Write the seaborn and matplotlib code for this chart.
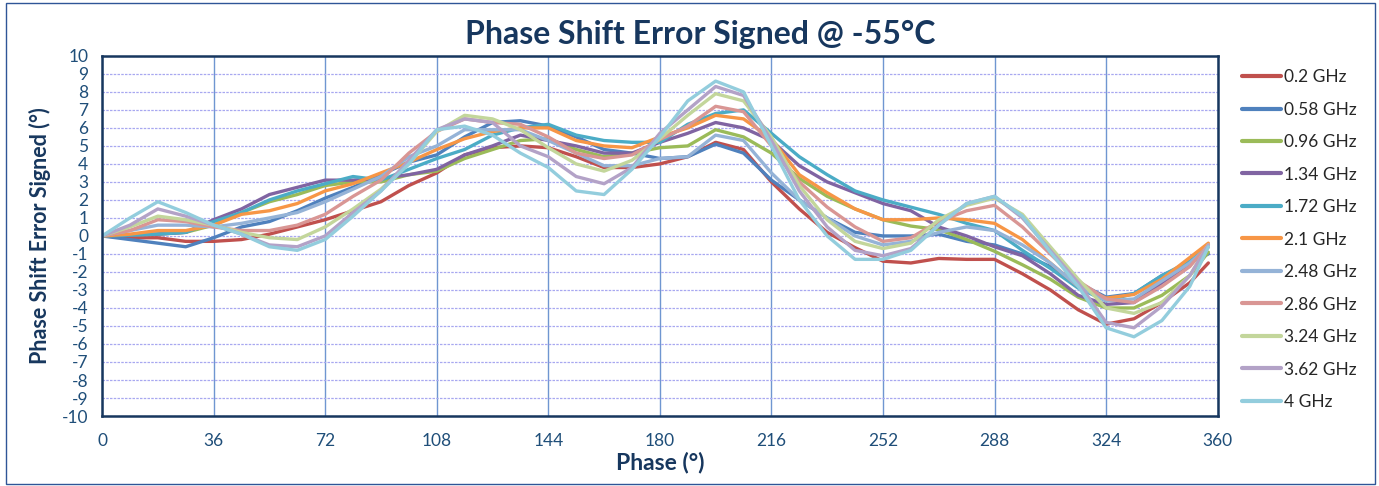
import matplotlib
matplotlib.use('Agg')
import matplotlib.pyplot as plt
import numpy as np
import pandas as pd
import seaborn as sns

# phase points (deg)
phase = [0, 9, 18, 27, 36, 45, 54, 63, 72, 81, 90, 99, 108, 117, 126, 135, 144, 153, 162, 171,
         180, 189, 198, 207, 216, 225, 234, 243, 252, 261, 270, 279, 288, 297, 306, 315, 324, 333,
         342, 351, 357]

err_0_2 = [0, -0.1, -0.1, -0.3, -0.3, -0.2, 0.1, 0.5, 0.9, 1.4, 1.9, 2.8, 3.5, 4.5, 4.9, 5.0, 4.9,
           4.4, 3.8, 3.8, 4.0, 4.4, 5.2, 4.8, 3.0, 1.5, 0.2, -0.65, -1.4, -1.5, -1.25, -1.3, -1.3,
           -2.1, -3.0, -4.1, -4.9, -4.6, -3.7, -2.6, -1.5]
err_0_58 = [0, -0.2, -0.4, -0.6, -0.1, 0.5, 0.8, 1.4, 2.1, 2.7, 3.4, 4.1, 4.5, 5.5, 6.3, 6.4, 6.1,
            5.5, 4.8, 4.6, 4.3, 4.4, 5.1, 4.6, 3.1, 2.0, 1.0, 0.2, 0.0, 0.0, 0.1, -0.3, -0.5,
            -1.0, -1.7, -2.6, -3.4, -3.2, -2.2, -1.5, -1.0]
err_0_96 = [0, 0.05, 0.1, 0.2, 0.6, 1.3, 1.9, 2.3, 2.8, 3.0, 3.0, 3.4, 3.6, 4.3, 4.8, 5.3, 5.4,
            4.8, 4.4, 4.6, 4.9, 5.0, 5.9, 5.5, 4.6, 3.2, 2.2, 1.5, 0.9, 0.55, 0.35, -0.2, -0.85,
            -1.6, -2.4, -3.4, -4.0, -4.0, -3.3, -2.2, -0.9]
err_1_34 = [0, 0.05, 0.1, 0.2, 0.9, 1.5, 2.3, 2.7, 3.1, 3.1, 3.2, 3.4, 3.7, 4.5, 5.0, 5.6, 5.3,
            5.0, 4.6, 4.6, 5.2, 5.7, 6.3, 6.0, 5.3, 3.9, 3.0, 2.4, 1.8, 1.4, 0.5, 0.0, -0.6,
            -1.1, -2.1, -3.3, -3.8, -3.7, -2.6, -1.6, -0.6]
err_1_72 = [0, 0.05, 0.1, 0.2, 0.8, 1.3, 2.0, 2.5, 2.9, 3.3, 3.1, 3.7, 4.3, 4.8, 5.6, 6.0, 6.2,
            5.6, 5.3, 5.2, 5.2, 6.2, 6.8, 7.0, 5.7, 4.4, 3.4, 2.5, 2.0, 1.6, 1.2, 0.7, 0.3,
            -0.8, -1.8, -2.9, -3.6, -3.2, -2.2, -1.4, -0.6]
err_2_1 = [0, 0.1, 0.3, 0.3, 0.6, 1.2, 1.4, 1.8, 2.5, 2.9, 3.5, 4.1, 4.8, 5.4, 5.8, 6.0, 6.0,
           5.3, 5.0, 4.9, 5.5, 6.0, 6.7, 6.5, 5.4, 3.4, 2.4, 1.5, 0.9, 0.9, 1.0, 0.9, 0.7,
           -0.2, -1.5, -2.8, -3.45, -3.25, -2.4, -1.2, -0.4]
err_2_48 = [0, 0.3, 0.6, 0.6, 0.5, 0.7, 1.0, 1.3, 1.9, 2.6, 3.3, 4.4, 5.0, 5.9, 5.9, 5.9, 5.3,
            4.6, 3.9, 3.9, 4.3, 4.4, 5.6, 5.3, 3.5, 2.0, 1.0, 0.0, -0.5, -0.3, 0.2, 0.5, 0.3,
            -0.5, -1.5, -2.8, -3.6, -3.5, -2.5, -1.5, -0.6]
err_2_86 = [0, 0.3, 0.9, 0.8, 0.5, 0.3, 0.3, 0.6, 1.2, 2.2, 3.1, 4.6, 5.8, 6.5, 6.3, 6.2, 5.5,
            4.6, 4.3, 4.5, 5.35, 6.1, 7.2, 6.9, 5.0, 3.0, 1.6, 0.5, -0.3, -0.1, 0.8, 1.4, 1.7,
            0.5, -1.0, -2.5, -3.5, -3.7, -2.8, -1.7, -0.5]
err_3_24 = [0, 0.5, 1.1, 0.9, 0.6, 0.2, -0.1, -0.2, 0.5, 1.5, 2.6, 4.0, 5.8, 6.7, 6.5, 5.9, 4.9,
            4.0, 3.6, 4.2, 5.4, 6.7, 7.9, 7.5, 5.5, 2.8, 0.9, -0.3, -0.7, -0.4, 0.9, 1.7, 2.1,
            1.2, -0.6, -2.4, -4.0, -4.3, -3.7, -2.2, -0.5]
err_3_62 = [0, 0.6, 1.5, 1.1, 0.6, 0.1, -0.5, -0.6, 0.0, 1.3, 2.5, 4.2, 5.9, 6.5, 6.3, 5.0, 4.4,
            3.3, 2.9, 3.8, 5.7, 7.0, 8.3, 7.8, 5.3, 2.5, 0.5, -0.8, -1.1, -0.7, 0.6, 1.8, 2.2,
            1.0, -0.8, -2.6, -4.8, -5.1, -3.9, -2.2, -0.5]
err_4 = [0, 1.0, 1.9, 1.3, 0.6, 0.1, -0.6, -0.8, -0.2, 1.1, 2.5, 4.0, 5.9, 6.1, 5.6, 4.6, 3.8,
         2.5, 2.3, 3.7, 5.5, 7.5, 8.6, 8.0, 5.0, 2.0, 0.0, -1.3, -1.3, -0.8, 0.6, 1.8, 2.2,
         1.1, -0.9, -2.8, -5.1, -5.6, -4.7, -2.8, -0.6]

labels = ['0.2 GHz', '0.58 GHz', '0.96 GHz', '1.34 GHz', '1.72 GHz', '2.1 GHz',
          '2.48 GHz', '2.86 GHz', '3.24 GHz', '3.62 GHz', '4 GHz']
series = [err_0_2, err_0_58, err_0_96, err_1_34, err_1_72, err_2_1,
          err_2_48, err_2_86, err_3_24, err_3_62, err_4]
colors = ['#C0504D', '#4F81BD', '#9BBB59', '#8064A2', '#4BACC6', '#F79646',
          '#95B3D7', '#D99694', '#C3D69B', '#B3A2C7', '#93CDDD']

df = pd.concat([pd.DataFrame({'Phase': phase, 'Error': s, 'Freq': lab})
                for s, lab in zip(series, labels)], ignore_index=True)

sns.set_style('white')
plt.rcParams['font.family'] = ['Lato', 'DejaVu Sans']
plt.rcParams['axes.unicode_minus'] = False

navy = '#17375E'
tick_col = '#1F4E79'

fig = plt.figure(figsize=(13.79, 4.86), dpi=100)
ax = fig.add_axes([0.074, 0.144, 0.809, 0.741])

sns.lineplot(data=df, x='Phase', y='Error', hue='Freq', palette=colors,
             hue_order=labels, linewidth=2.4, sort=False, ax=ax, legend=False)

ax.set_xlim(0, 360)
ax.set_ylim(-10, 10)
ax.set_xticks(np.arange(0, 361, 36))
ax.set_yticks(np.arange(-10, 11, 1))
ax.tick_params(axis='both', length=0, labelsize=12.5, colors=tick_col)
ax.tick_params(axis='x', pad=12)
ax.tick_params(axis='y', pad=10)

ax.xaxis.grid(True, color='#6F96D1', linewidth=1.0, linestyle='-')
ax.yaxis.grid(True, color='#A8A8F0', linewidth=0.9, linestyle=(0, (2, 1)))
ax.set_axisbelow(True)
for sp in ax.spines.values():
    sp.set_color(navy)
    sp.set_linewidth(1.8)

ax.set_xlabel('Phase (°)', fontsize=16.5, fontweight='bold', color=navy, labelpad=2)
ax.set_ylabel('Phase Shift Error Signed (°)', fontsize=15.5, fontweight='bold', color=navy,
              labelpad=8)
fig.text(0.508, 0.93, 'Phase Shift Error Signed @ -55°C', ha='center', va='center',
         fontsize=23, fontweight='bold', color=navy)

handles = [plt.Line2D([], [], color=c, linewidth=3) for c in colors]
fig.legend(handles, labels, loc='upper left', bbox_to_anchor=(0.889, 0.89), frameon=False,
           fontsize=12.5, handlelength=2.3, handletextpad=0.15, labelspacing=0.95,
           labelcolor='#262626', borderpad=0.4)

# outer chart border
fig.patches.append(plt.Rectangle((0.004, 0.004), 0.993, 0.99, transform=fig.transFigure,
                                 fill=False, edgecolor='#2F5597', linewidth=1.0))

fig.savefig('out.png', dpi=100)
